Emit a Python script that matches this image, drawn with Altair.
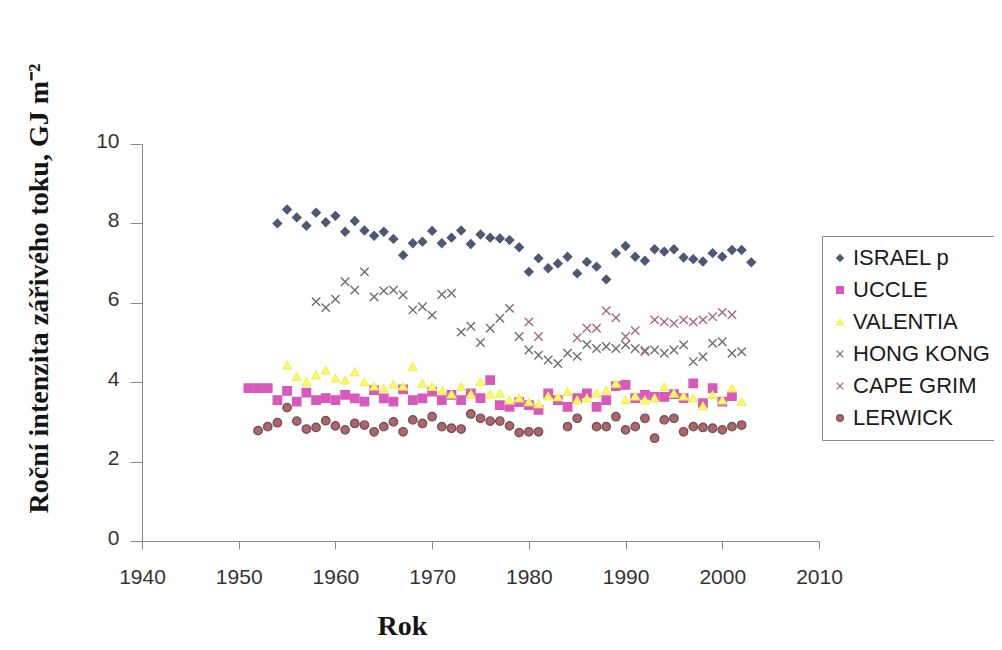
import altair as alt
import pandas as pd

series_names = ["ISRAEL p", "UCCLE", "VALENTIA", "HONG KONG", "CAPE GRIM", "LERWICK"]

israel_years = list(range(1954, 2004))
israel_vals = [8.00, 8.35, 8.15, 7.94, 8.27, 8.03, 8.19, 7.79, 8.06, 7.82,
               7.69, 7.79, 7.61, 7.20, 7.50, 7.54, 7.81, 7.50, 7.64, 7.82,
               7.48, 7.72, 7.64, 7.62, 7.58, 7.40, 6.78, 7.12, 6.87, 6.99,
               7.16, 6.74, 7.03, 6.91, 6.59, 7.25, 7.43, 7.16, 7.06, 7.35,
               7.29, 7.35, 7.14, 7.10, 7.04, 7.25, 7.16, 7.33, 7.33, 7.02]

uccle_years = list(range(1951, 2002))
uccle_vals = [3.85, 3.85, 3.85, 3.55, 3.78, 3.51, 3.74, 3.55, 3.60, 3.55,
              3.68, 3.59, 3.51, 3.80, 3.59, 3.51, 3.82, 3.55, 3.59, 3.76,
              3.55, 3.68, 3.55, 3.72, 3.60, 4.05, 3.42, 3.38, 3.50, 3.42,
              3.30, 3.72, 3.55, 3.38, 3.60, 3.72, 3.38, 3.55, 3.90, 3.93,
              3.60, 3.68, 3.63, 3.63, 3.70, 3.60, 3.97, 3.47, 3.85, 3.51,
              3.65]

valentia_years = list(range(1955, 2003))
valentia_vals = [4.43, 4.14, 4.01, 4.18, 4.30, 4.10, 4.05, 4.26, 4.01, 3.90,
                 3.85, 3.95, 3.90, 4.39, 3.97, 3.89, 3.80, 3.70, 3.89, 3.70,
                 4.01, 3.70, 3.72, 3.55, 3.60, 3.50, 3.45, 3.65, 3.63, 3.76,
                 3.55, 3.60, 3.72, 3.80, 3.97, 3.55, 3.65, 3.55, 3.60, 3.89,
                 3.72, 3.65, 3.60, 3.40, 3.68, 3.55, 3.85, 3.51]

hongkong_years = list(range(1958, 2003))
hongkong_vals = [6.03, 5.88, 6.09, 6.53, 6.32, 6.78, 6.15, 6.30, 6.32, 6.20,
                 5.82, 5.90, 5.69, 6.21, 6.24, 5.26, 5.41, 5.00, 5.36, 5.61,
                 5.86, 5.15, 4.81, 4.68, 4.56, 4.47, 4.73, 4.65, 4.95, 4.85,
                 4.90, 4.85, 4.94, 4.85, 4.80, 4.81, 4.73, 4.81, 4.94, 4.52,
                 4.64, 4.98, 5.02, 4.73, 4.77]

capegrim_years = [1980, 1981, 1985, 1986, 1987, 1988, 1989, 1990, 1991, 1992,
                  1993, 1994, 1995, 1996, 1997, 1998, 1999, 2000, 2001]
capegrim_vals = [5.52, 5.15, 5.12, 5.36, 5.36, 5.80, 5.62, 5.15, 5.30, 4.77,
                 5.57, 5.52, 5.48, 5.57, 5.52, 5.57, 5.65, 5.76, 5.70]

lerwick_years = [1952, 1953, 1954, 1955, 1956, 1957, 1958, 1959, 1960, 1961,
                 1962, 1963, 1964, 1965, 1966, 1967, 1968, 1969, 1970, 1971,
                 1972, 1973, 1974, 1975, 1976, 1977, 1978, 1979, 1980, 1981,
                 1984, 1985, 1987, 1988, 1989, 1990, 1991, 1992, 1993, 1994,
                 1995, 1996, 1997, 1998, 1999, 2000, 2001, 2002]
lerwick_vals = [2.78, 2.88, 2.98, 3.36, 3.02, 2.82, 2.86, 3.03, 2.90, 2.80,
                2.96, 2.92, 2.75, 2.88, 3.00, 2.75, 3.05, 2.96, 3.13, 2.88,
                2.84, 2.82, 3.20, 3.09, 3.02, 3.02, 2.90, 2.73, 2.75, 2.75,
                2.88, 3.09, 2.88, 2.88, 3.13, 2.80, 2.88, 3.09, 2.59, 3.05,
                3.09, 2.75, 2.88, 2.86, 2.84, 2.80, 2.88, 2.92]

x_ticks = [1940, 1950, 1960, 1970, 1980, 1990, 2000, 2010]
y_ticks = [0, 2, 4, 6, 8, 10]

fill_colors = ["#4e5874", "#d858bc", "#ffff5a", "#767676", "#b07090", "#b3646a"]
stroke_colors = ["#4e5874", "#d858bc", "#f0f060", "#6e6e6e", "#a8668a", "#6f5658"]
cross = "M-1,-1L1,1M1,-1L-1,1"
shapes = ["diamond", "square", "triangle-up", cross, cross, "circle"]

all_years = [israel_years, uccle_years, valentia_years, hongkong_years, capegrim_years, lerwick_years]
all_vals = [israel_vals, uccle_vals, valentia_vals, hongkong_vals, capegrim_vals, lerwick_vals]

rows = []
for order, (name, ys, vs) in enumerate(zip(series_names, all_years, all_vals)):
    for yr, v in zip(ys, vs):
        rows.append({"series": name, "year": yr, "value": v, "order": order})
df = pd.DataFrame(rows)

y_title = "Roční intenzita zářivého toku, GJ m\u207b\u00b2"

chart = alt.Chart(df).mark_point(
    filled=True, opacity=1, size=70, strokeWidth=1.4
).encode(
    x=alt.X("year:Q",
            scale=alt.Scale(domain=[1940, 2010], nice=False, zero=False),
            axis=alt.Axis(values=x_ticks, format="d", title="Rok",
                          titleX=260, titleY=93, titleAlign="center",
                          titleBaseline="alphabetic", labelPadding=17,
                          labelFlush=False, tickSize=8)),
    y=alt.Y("value:Q",
            scale=alt.Scale(domain=[0, 10], nice=False),
            axis=alt.Axis(values=y_ticks, title=y_title,
                          titleX=-95, titleY=144, titleAlign="center",
                          titleBaseline="alphabetic", titleAngle=270,
                          labelPadding=11, labelFlush=False, tickSize=12,
                          labelOffset=-3)),
    color=alt.Color("series:N",
                    scale=alt.Scale(domain=series_names, range=fill_colors),
                    title=None,
                    legend=alt.Legend(orient="none", legendX=680, legendY=92)),
    stroke=alt.Stroke("series:N",
                      scale=alt.Scale(domain=series_names, range=stroke_colors),
                      title=None),
    shape=alt.Shape("series:N",
                    scale=alt.Scale(domain=series_names, range=shapes),
                    title=None),
    order=alt.Order("order:Q"),
).properties(
    width=677, height=397,
    autosize=alt.AutoSizeParams(type="none"),
    padding={"left": 134, "top": 136, "right": 175, "bottom": 101},
    background="white",
).configure_view(
    stroke=None
).configure_axis(
    grid=False,
    domainColor="#8a8a8a",
    tickColor="#8a8a8a",
    labelFont="Liberation Sans",
    labelFontSize=21,
    labelColor="#333333",
    titleFont="Liberation Serif",
    titleFontWeight="bold",
    titleFontSize=28,
    titleColor="#151515",
).configure_legend(
    labelFont="Liberation Sans",
    labelFontSize=22,
    labelColor="#1a1a1a",
    strokeColor="#8a8a8a",
    padding=11,
    rowPadding=10,
    symbolSize=45,
    symbolStrokeWidth=1.3,
    symbolOffset=-4,
    labelOffset=2,
    fillColor="white",
)

chart.save("out.html", embed_options={"renderer": "svg", "actions": False})
